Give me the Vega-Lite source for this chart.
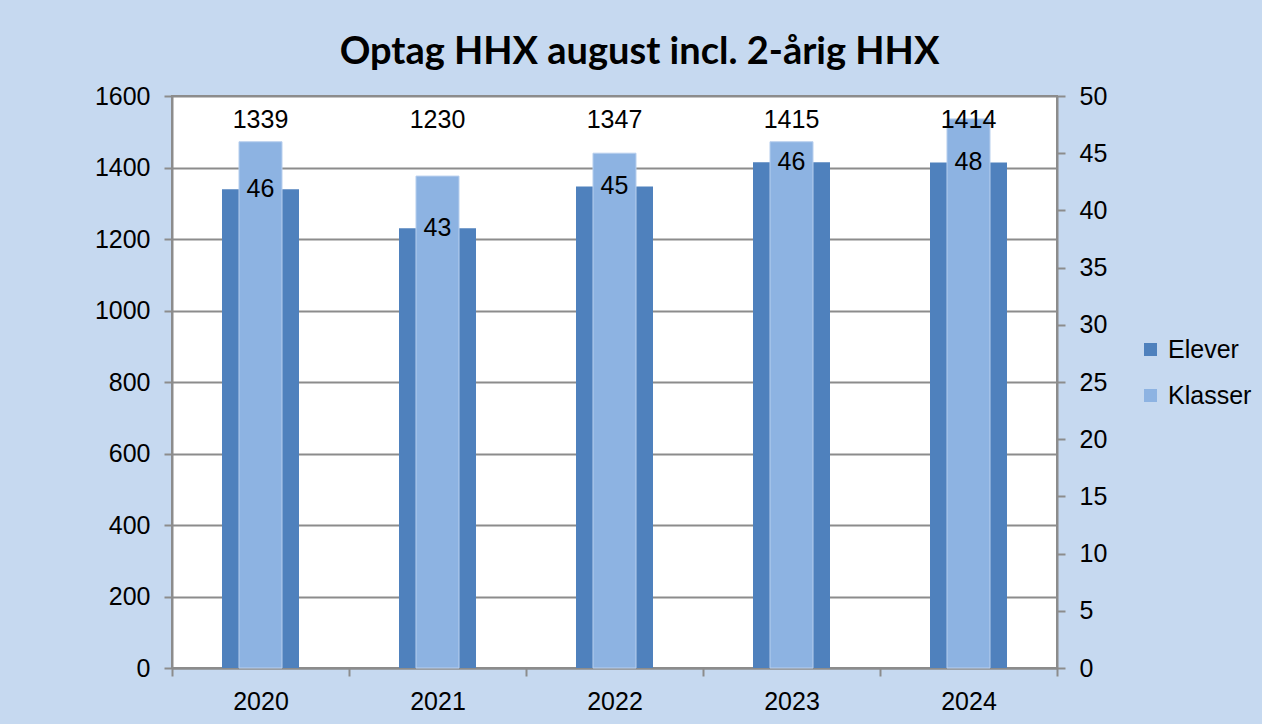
{
  "$schema": "https://vega.github.io/schema/vega-lite/v6.json",
  "width": 885,
  "height": 572,
  "padding": {"left": 94, "top": 34, "right": 10, "bottom": 10},
  "background": "#c6d9f0",
  "title": {"text": "Optag HHX august incl. 2-årig HHX", "font": "Lato", "fontSize": 38, "fontWeight": "bold", "color": "#000000", "anchor": "middle", "dx": 25, "offset": 12},
  "config": {
    "view": {"fill": "white", "stroke": "#8c8c8c", "strokeWidth": 2},
    "axis": {"labelFont": "Liberation Sans", "labelFontSize": 25, "labelColor": "#000000", "domainColor": "#8c8c8c", "domainWidth": 2, "tickColor": "#8c8c8c", "tickWidth": 2, "tickSize": 8, "gridColor": "#8c8c8c", "gridWidth": 2, "title": null},
    "legend": {"labelFont": "Liberation Sans", "labelFontSize": 25, "labelColor": "#000000"}
  },
  "data": {"values": [
    {"year": "2020", "Elever": 1339, "Klasser": 46},
    {"year": "2021", "Elever": 1230, "Klasser": 43},
    {"year": "2022", "Elever": 1347, "Klasser": 45},
    {"year": "2023", "Elever": 1415, "Klasser": 46},
    {"year": "2024", "Elever": 1414, "Klasser": 48}
  ]},
  "encoding": {
    "x": {"field": "year", "type": "nominal", "scale": {"paddingInner": 0, "paddingOuter": 0},
      "axis": {"labelAngle": 0, "tickBand": "extent", "labelPadding": 13, "grid": false}}
  },
  "layer": [
    {
      "mark": {"type": "bar", "width": {"band": 0.435}},
      "encoding": {
        "y": {"field": "Elever", "type": "quantitative", "scale": {"domain": [0, 1600], "nice": false},
          "axis": {"orient": "left", "format": "d", "values": [0, 200, 400, 600, 800, 1000, 1200, 1400, 1600], "grid": true, "labelPadding": 14}},
        "color": {"datum": "Elever", "type": "nominal",
          "scale": {"domain": ["Elever", "Klasser"], "range": ["#4f81bd", "#8db3e2"]},
          "legend": {"title": null, "orient": "none", "legendX": 966, "legendY": 241, "symbolType": "square", "symbolSize": 169, "symbolStrokeWidth": 0, "labelOffset": 5, "rowPadding": 20, "padding": 0}}
      }
    },
    {
      "mark": {"type": "bar", "width": {"band": 0.243}, "stroke": "#b8cfee", "strokeWidth": 1},
      "encoding": {
        "y": {"field": "Klasser", "type": "quantitative", "scale": {"domain": [0, 50], "nice": false},
          "axis": {"orient": "right", "values": [0, 5, 10, 15, 20, 25, 30, 35, 40, 45, 50], "grid": false, "labelPadding": 14}},
        "color": {"datum": "Klasser", "type": "nominal"}
      }
    },
    {
      "mark": {"type": "text", "font": "Liberation Sans", "fontSize": 25, "color": "#000000", "baseline": "middle"},
      "encoding": {
        "y": {"datum": 1533, "type": "quantitative", "scale": {"domain": [0, 1600], "nice": false}, "axis": null},
        "text": {"field": "Elever", "type": "quantitative"}
      }
    },
    {
      "mark": {"type": "text", "font": "Liberation Sans", "fontSize": 25, "color": "#000000", "baseline": "middle"},
      "encoding": {
        "y": {"field": "Elever", "type": "quantitative", "scale": {"domain": [0, 1600], "nice": false}, "axis": null},
        "text": {"field": "Klasser", "type": "quantitative"}
      }
    }
  ],
  "resolve": {"scale": {"y": "independent"}}
}
